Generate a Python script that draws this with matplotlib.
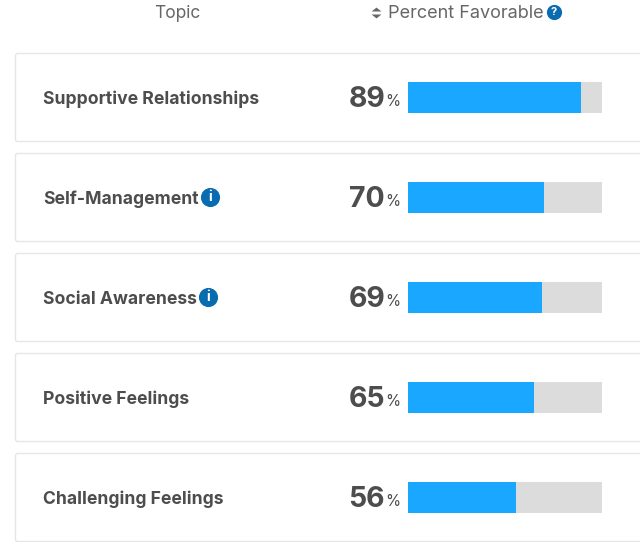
import matplotlib
matplotlib.use("Agg")
import matplotlib.pyplot as plt
from matplotlib.patches import FancyBboxPatch

topics = ["Supportive Relationships", "Self-Management", "Social Awareness",
          "Positive Feelings", "Challenging Feelings"]
values = [89, 70, 69, 65, 56]
info_x = [None, 210, 208, None, None]
header_left = "Topic"
header_right = "Percent Favorable"

W, H = 640, 542
BLUE = "#1aa7ff"
GREY = "#dcdcdc"
TEXT = "#4d4d4d"
ICON = "#0a6cb0"
FONT = "Inter"

fig = plt.figure(figsize=(W / 100, H / 100), dpi=100, facecolor="white")

ov = fig.add_axes([0, 0, 1, 1], zorder=1)
ov.set_xlim(0, W)
ov.set_ylim(H, 0)
ov.axis("off")

for i, (name, val) in enumerate(zip(topics, values)):
    cy = 97.5 + 100 * i
    ov.add_patch(FancyBboxPatch((15.5, cy - 44), 660, 88,
                                boxstyle="round,pad=0,rounding_size=2",
                                fc="white", ec="#e6e6e6", lw=1.0))
    ov.text(43, cy + 1.5, name, family=FONT, weight="bold", fontsize=12.65,
            color=TEXT, va="center", ha="left")
    ov.text(385, cy + 2, str(val), family=FONT, weight="bold", fontsize=20.5,
            color=TEXT, va="center", ha="right")
    ov.text(385, cy + 4.5, "%", family=FONT, fontsize=11,
            color=TEXT, va="center", ha="left")
    if info_x[i] is not None:
        ov.scatter([info_x[i]], [cy - 0.5], s=190, color=ICON, lw=0, zorder=3)
        ov.text(info_x[i], cy - 0.5, "i", family=FONT, weight="bold", fontsize=10,
                color="white", ha="center", va="center", zorder=4)

ov.text(177, 13, header_left, family=FONT, fontsize=12.5, color="#666666",
        ha="center", va="center")
ov.text(388, 13, header_right, family=FONT, fontsize=13, color="#666666",
        ha="left", va="center")
tri_up = [(-1, 0), (1, 0), (0, 0.8), (-1, 0)]
tri_dn = [(-1, 0), (1, 0), (0, -0.8), (-1, 0)]
ov.scatter([376], [11], marker=tri_up, s=50, color="#666666", lw=0)
ov.scatter([376], [14], marker=tri_dn, s=50, color="#666666", lw=0)
ov.scatter([554], [12], s=120, color=ICON, lw=0, zorder=3)
ov.text(554, 12, "?", family=FONT, weight="bold", fontsize=8,
        color="white", ha="center", va="center", zorder=4)

ax = fig.add_axes([407.5 / W, 0, 194.5 / W, (H - 47.5) / H], zorder=2)
ax.patch.set_alpha(0)
ax.set_xlim(0, 100)
ax.set_ylim((H - 97.5) / 100, -0.5)
ax.axis("off")
ypos = list(range(len(topics)))
ax.barh(ypos, [100] * len(ypos), height=0.315, color=GREY, lw=0)
ax.barh(ypos, values, height=0.315, color=BLUE, lw=0)

fig.savefig("out.png", dpi=100, facecolor="white")
